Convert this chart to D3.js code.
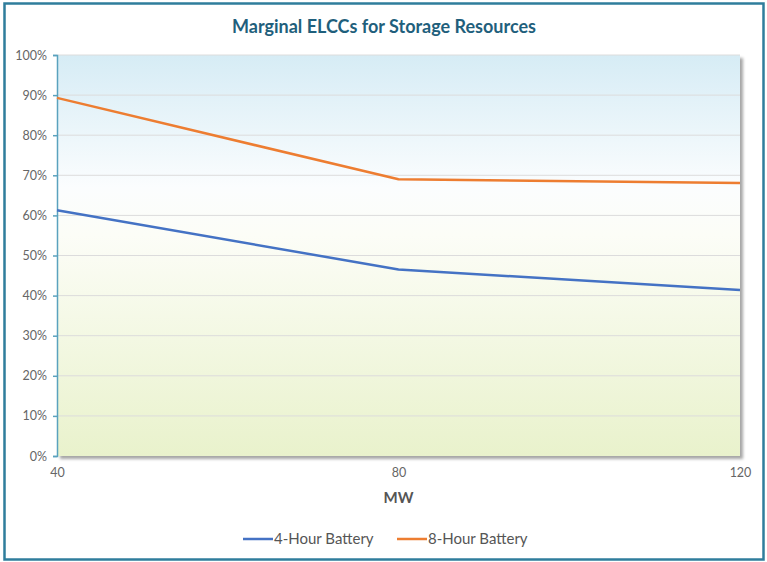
<!DOCTYPE html>
<html>
<head>
<meta charset="utf-8">
<script src="https://cdn.jsdelivr.net/npm/d3@7"></script>
<style>
  body { margin: 0; background: #fff; }
  svg { display: block; }
</style>
</head>
<body>
<div class="chart"></div>
<script>
// chart data
var mwValues = [40, 80, 120];
var fourHour = [61.3, 46.5, 41.4];
var eightHour = [89.3, 69.0, 68.1];
var yTicks = [0, 10, 20, 30, 40, 50, 60, 70, 80, 90, 100];
var seriesNames = ["4-Hour Battery", "8-Hour Battery"];
var seriesColors = ["#4472c4", "#ed7d31"];

var svgWidth = 767;
var svgHeight = 562;

var margin = { top: 55, right: 27, bottom: 106, left: 57 };
var width = svgWidth - margin.left - margin.right;
var height = svgHeight - margin.top - margin.bottom;

var font = "Lato, 'Open Sans', sans-serif";

var svg = d3.select(".chart")
    .append("svg")
    .attr("width", svgWidth)
    .attr("height", svgHeight);

var defs = svg.append("defs");

// background gradient of the plot area
var grad = defs.append("linearGradient")
    .attr("id", "plotBg")
    .attr("x1", 0).attr("y1", 0)
    .attr("x2", 0).attr("y2", 1);
grad.append("stop").attr("offset", "0%").attr("stop-color", "#d6ecf5");
grad.append("stop").attr("offset", "33%").attr("stop-color", "#fbfdfe");
grad.append("stop").attr("offset", "45%").attr("stop-color", "#fcfdf7");
grad.append("stop").attr("offset", "100%").attr("stop-color", "#e9f2cc");

var shadow = defs.append("filter")
    .attr("id", "shadow")
    .attr("x", "-5%").attr("y", "-5%")
    .attr("width", "110%").attr("height", "110%");
shadow.append("feDropShadow")
    .attr("dx", 3).attr("dy", 3)
    .attr("stdDeviation", 1.5)
    .attr("flood-color", "#000")
    .attr("flood-opacity", 0.35);

// outer frame
svg.append("rect")
    .attr("x", 4.5).attr("y", 3.5)
    .attr("width", 759).attr("height", 556)
    .attr("fill", "#fff")
    .attr("stroke", "#2f7d9c")
    .attr("stroke-width", 2.5);

// title
svg.append("text")
    .attr("x", 384)
    .attr("y", 33)
    .attr("text-anchor", "middle")
    .attr("font-family", font)
    .attr("font-weight", "bold")
    .attr("font-size", "18px")
    .attr("fill", "#1f5f7c")
    .text("Marginal ELCCs for Storage Resources");

var chartGroup = svg.append("g")
    .attr("transform", `translate(${margin.left}, ${margin.top})`);

var xScale = d3.scaleLinear()
    .domain([40, 120])
    .range([0, width]);

var yScale = d3.scaleLinear()
    .domain([0, 100])
    .range([height, 0]);

// plot background
chartGroup.append("rect")
    .attr("width", width)
    .attr("height", height)
    .attr("fill", "url(#plotBg)")
    .attr("filter", "url(#shadow)");

// gridlines
chartGroup.selectAll(".grid")
    .data(yTicks.slice(1))
    .enter()
    .append("line")
    .attr("x1", 0)
    .attr("x2", width)
    .attr("y1", d => yScale(d))
    .attr("y2", d => yScale(d))
    .attr("stroke", "#dcdcdc")
    .attr("stroke-width", 1);

// y axis
var leftAxis = d3.axisLeft(yScale)
    .tickValues(yTicks)
    .tickSize(4)
    .tickPadding(6)
    .tickFormat(d => d + "%");

var yAxisG = chartGroup.append("g").call(leftAxis);
yAxisG.select(".domain").attr("stroke", "#5aa2be").attr("stroke-width", 1.5);
yAxisG.selectAll(".tick line").attr("stroke", "#5aa2be").attr("stroke-width", 1.5);
yAxisG.selectAll(".tick text")
    .attr("font-family", font)
    .attr("font-size", "12.5px")
    .attr("fill", "#666");

// x axis
var bottomAxis = d3.axisBottom(xScale)
    .tickValues(mwValues)
    .tickSize(0)
    .tickPadding(12);

var xAxisG = chartGroup.append("g")
    .attr("transform", `translate(0, ${height})`)
    .call(bottomAxis);
xAxisG.select(".domain").remove();
xAxisG.selectAll(".tick text")
    .attr("font-family", font)
    .attr("font-size", "12.5px")
    .attr("fill", "#666");

// x axis title
chartGroup.append("text")
    .attr("x", width / 2)
    .attr("y", height + 47)
    .attr("text-anchor", "middle")
    .attr("font-family", font)
    .attr("font-weight", "bold")
    .attr("font-size", "15px")
    .attr("fill", "#555")
    .text("MW");

// lines
var line = d3.line()
    .x((d, i) => xScale(mwValues[i]))
    .y(d => yScale(d));

[fourHour, eightHour].forEach(function (series, i) {
    chartGroup.append("path")
        .datum(series)
        .attr("d", line)
        .attr("fill", "none")
        .attr("stroke", seriesColors[i])
        .attr("stroke-width", 2.5)
        .attr("stroke-linejoin", "round");
});

// legend
var legendX = [243, 397];
var legend = svg.selectAll(".legend")
    .data(seriesNames)
    .enter()
    .append("g")
    .attr("transform", (d, i) => `translate(${legendX[i]}, 539)`);

legend.append("line")
    .attr("x1", 0).attr("x2", 30)
    .attr("y1", 0).attr("y2", 0)
    .attr("stroke", (d, i) => seriesColors[i])
    .attr("stroke-width", 2.5);

legend.append("text")
    .attr("x", 31)
    .attr("y", 5)
    .attr("font-family", font)
    .attr("font-size", "15px")
    .attr("fill", "#555")
    .text(d => d);
</script>
</body>
</html>
